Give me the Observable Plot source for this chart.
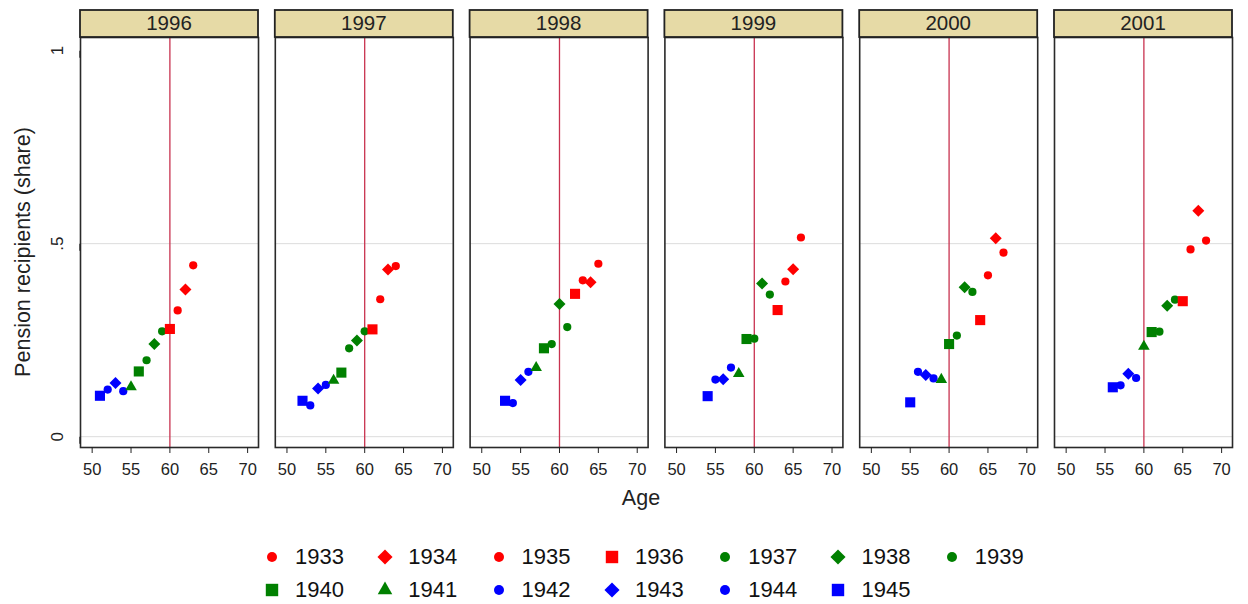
<!DOCTYPE html>
<html><head><meta charset="utf-8">
<script src="https://cdn.jsdelivr.net/npm/d3@7"></script>
<script src="https://cdn.jsdelivr.net/npm/@observablehq/plot@0.6"></script>
<style>
body{margin:0;background:#fff;font-family:"Liberation Sans",Arial,sans-serif;}
#chart{position:relative;width:1248px;height:604px;overflow:hidden;}
#legend{position:absolute;left:260px;top:541px;display:grid;grid-template-columns:repeat(7,113.3px);grid-auto-rows:32.5px;}
.item{display:flex;align-items:center;font-size:22px;color:#111;}
.item svg{width:24px;height:24px;margin-right:11px;flex:none;overflow:visible}
g[aria-label="y-axis tick label"]{font-size:17px;fill:#222;}
g[aria-label="x-axis tick label"]{font-size:16.5px;fill:#222;}
</style></head><body><div id="chart"></div>
<script>
// ---- data ----
const years = [1996, 1997, 1998, 1999, 2000, 2001];
const cohorts = [1933, 1934, 1935, 1936, 1937, 1938, 1939, 1940, 1941, 1942, 1943, 1944, 1945];
// share of pension recipients, by birth cohort (1933..1945), for each survey year
const share1996 = [0.444, 0.381, 0.327, 0.279, 0.273, 0.240, 0.198, 0.169, 0.129, 0.118, 0.139, 0.122, 0.106];
const share1997 = [0.442, 0.433, 0.356, 0.278, 0.273, 0.249, 0.229, 0.166, 0.146, 0.134, 0.125, 0.081, 0.093];
const share1998 = [0.448, 0.400, 0.405, 0.370, 0.284, 0.344, 0.240, 0.229, 0.179, 0.168, 0.147, 0.087, 0.093];
const share1999 = [0.516, 0.434, 0.402, 0.328, 0.368, 0.397, 0.254, 0.253, 0.163, 0.179, 0.149, 0.148, 0.105];
const share2000 = [0.477, 0.514, 0.418, 0.302, 0.375, 0.387, 0.262, 0.240, 0.148, 0.151, 0.160, 0.168, 0.089];
const share2001 = [0.508, 0.585, 0.485, 0.351, 0.355, 0.339, 0.272, 0.271, 0.234, 0.152, 0.163, 0.133, 0.128];
const xTicks = [50, 55, 60, 65, 70];
const yTicks = [0, 0.5, 1];
const yTickLabels = ["0", ".5", "1"];
const referenceAge = [60];
const gridLevels = [0, 0.5];

// ---- styles ----
const cohortMarkers = ["circle","diamond2","circle","square","circle","diamond2","circle","square","triangle","circle","diamond2","circle","square"];
const cohortColors = ["#ff0000","#ff0000","#ff0000","#ff0000","#008000","#008000","#008000","#008000","#008000","#0000ff","#0000ff","#0000ff","#0000ff"];
const markerR = {circle: 4.1, diamond2: 5.4, square: 5.7, triangle: 4.3};

const shares = [share1996, share1997, share1998, share1999, share2000, share2001];
const data = years.flatMap((yr, i) => cohorts.map((c, j) => ({
  year: yr, cohort: String(c), age: yr - c, share: shares[i][j], marker: cohortMarkers[j]
})));

const dotMarks = Object.keys(markerR).map(m => Plot.dot(data, {
  filter: d => d.marker === m, fx: "year", x: "age", y: "share",
  symbol: m, r: markerR[m], fill: "cohort", stroke: "none"
}));

const W = 1248, H = 520, mT = 37, mB = 73, mL = 80, mR = 16;
const plot = Plot.plot({
  width: W, height: H,
  marginTop: mT, marginBottom: mB, marginLeft: mL, marginRight: mR,
  style: {fontFamily: '"Liberation Sans", Arial, sans-serif', color: "#222", background: "#fff"},
  fx: {domain: years, paddingInner: 0.0862, paddingOuter: 0, round: false, axis: null, label: null},
  x: {domain: [48.5, 71.4], label: null},
  y: {domain: [-0.028, 1.034], label: null},
  color: {domain: cohorts.map(String), range: cohortColors},
  marks: [
    Plot.ruleY(gridLevels, {stroke: "#dcdcdc", strokeWidth: 1}),
    Plot.ruleX(referenceAge, {stroke: "#c8324f", strokeWidth: 1.3}),
    ...dotMarks,
    Plot.frame({stroke: "#2a2a2a", strokeWidth: 1.6}),
    Plot.axisX({ticks: xTicks, tickSize: 6, tickPadding: 10, fontSize: 16.5, label: null, stroke: "#222"}),
    Plot.axisY({ticks: yTicks, tickFormat: d => yTickLabels[yTicks.indexOf(d)], tickSize: 7, tickPadding: 16,
      rotate: -90, textAnchor: "middle", fontSize: 17, label: null, stroke: "#222", strokeWidth: 1.3})
  ]
});

const chart = document.getElementById("chart");
chart.appendChild(plot);
const svg = d3.select(plot);

// strips using the fx scale
const fxs = plot.scale("fx");
const band = d3.scaleBand(fxs.domain, fxs.range).paddingInner(fxs.paddingInner).paddingOuter(fxs.paddingOuter);
const strips = svg.append("g").attr("aria-label", "strips");
years.forEach(yr => {
  const x0 = band(yr), bw = band.bandwidth();
  strips.append("rect").attr("x", x0).attr("y", 10).attr("width", bw).attr("height", mT - 10)
    .attr("fill", "#e6daa6").attr("stroke", "#222").attr("stroke-width", 1.8);
  strips.append("text").attr("x", x0 + bw / 2).attr("y", 30).attr("text-anchor", "middle")
    .attr("font-size", 20.5).attr("fill", "#222").text(yr);
});

// axis titles
svg.append("text").attr("x", 641).attr("y", 505).attr("text-anchor", "middle")
  .attr("font-size", 21.5).attr("fill", "#222").text("Age");
svg.append("text").attr("transform", "translate(30,252) rotate(-90)").attr("text-anchor", "middle")
  .attr("font-size", 21.5).attr("fill", "#222").text("Pension recipients (share)");

// legend
const legend = d3.select(chart).append("div").attr("id", "legend");
const legendR = {circle: 5, diamond2: 6.8, square: 7, triangle: 5.4};
const symMap = {circle: d3.symbolCircle, diamond2: d3.symbolDiamond2, square: d3.symbolSquare, triangle: d3.symbolTriangle};
cohorts.forEach((c, j) => {
  const it = legend.append("div").attr("class", "item");
  const s = it.append("svg").attr("viewBox", "-12 -12 24 24");
  const r = legendR[cohortMarkers[j]];
  s.append("path").attr("d", d3.symbol(symMap[cohortMarkers[j]], Math.PI * r * r)()).attr("fill", cohortColors[j]);
  it.append("span").text(c);
});
</script></body></html>
